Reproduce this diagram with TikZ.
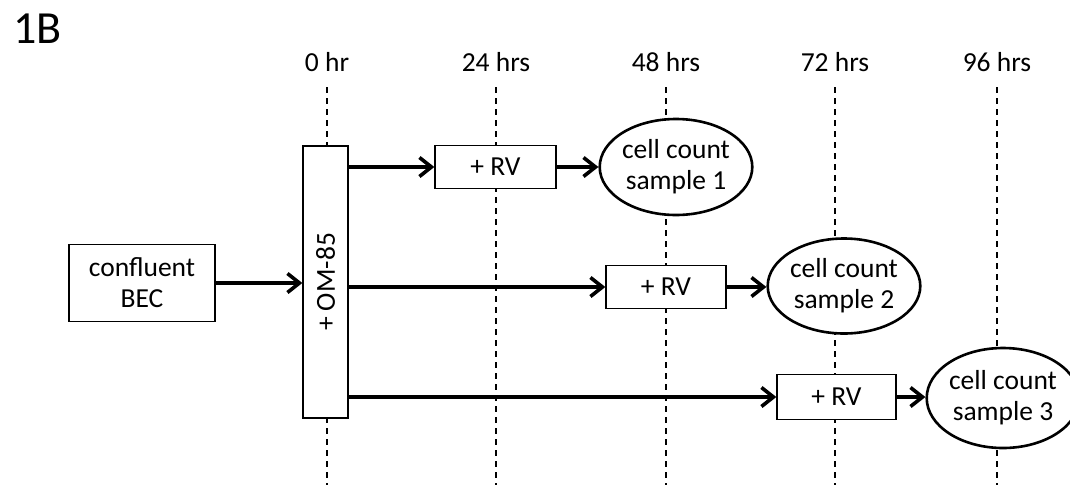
\documentclass[tikz,border=0pt]{standalone}
\usepackage{fontspec}
\setmainfont{Carlito}
\usetikzlibrary{arrows.meta,shapes.geometric}
\begin{document}
\begin{tikzpicture}[x=1pt,y=1pt,
  txt/.style={font=\fontsize{27.5}{31}\selectfont},
  box/.style={draw,fill=white,line width=1.3pt,inner sep=0pt,txt,align=center},
  oval/.style={ellipse,draw,fill=white,line width=2.6pt,inner sep=0pt,txt,align=center},
  guide/.style={dashed,line width=1.1pt,dash pattern=on 6pt off 5pt},
  arr/.style={line width=4pt,-{Straight Barb[length=12pt,width=19pt,line width=3.6pt]}}]
\useasboundingbox (0,0) rectangle (1070,-485);
\node[font=\fontsize{46}{50}\selectfont,anchor=west] (title) at (10,-29) {1B};
% time labels
\foreach \n/\x/\t in {t0/327/0 hr,t1/496/24 hrs,t2/666/48 hrs,t3/835/72 hrs,t4/997/96 hrs}{
  \node[txt] (\n) at (\x,-62) {\t};
  \coordinate (\n a) at (\x,-87);
  \coordinate (\n b) at (\x,-485);
  \draw[guide] (\n a) -- (\n b);
}
% nodes
\node[box,minimum width=146pt,minimum height=77pt] (bec) at (142,-283) {confluent\\BEC};
\node[box,rotate=90,minimum width=272pt,minimum height=45pt] (om) at (325.5,-282) {+ OM-85};
\node[box,minimum width=121pt,minimum height=43pt] (rv1) at (495.5,-167) {+ RV};
\node[box,minimum width=120pt,minimum height=43pt] (rv2) at (666,-287) {+ RV};
\node[box,minimum width=119pt,minimum height=45pt] (rv3) at (836.5,-397) {+ RV};
\node[oval,minimum width=138pt,minimum height=96pt] (s1) at (676,-167) {cell count\\sample 1};
\node[oval,minimum width=138pt,minimum height=95pt] (s2) at (844,-286) {cell count\\sample 2};
\node[oval,minimum width=132pt,minimum height=100pt] (s3) at (1003,-398) {cell count\\sample 3};
% arrows
\draw[arr] (bec.east) -- (bec.east -| om.north);
\draw[arr] (rv1.west -| om.south) -- (rv1.west);
\draw[arr] (rv2.west -| om.south) -- (rv2.west);
\draw[arr] (rv3.west -| om.south) -- (rv3.west);
\draw[arr] (rv1.east) -- (rv1.east -| s1.west);
\draw[arr] (rv2.east) -- (rv2.east -| s2.west);
\draw[arr] (rv3.east) -- (rv3.east -| s3.west);
\end{tikzpicture}
\end{document}
